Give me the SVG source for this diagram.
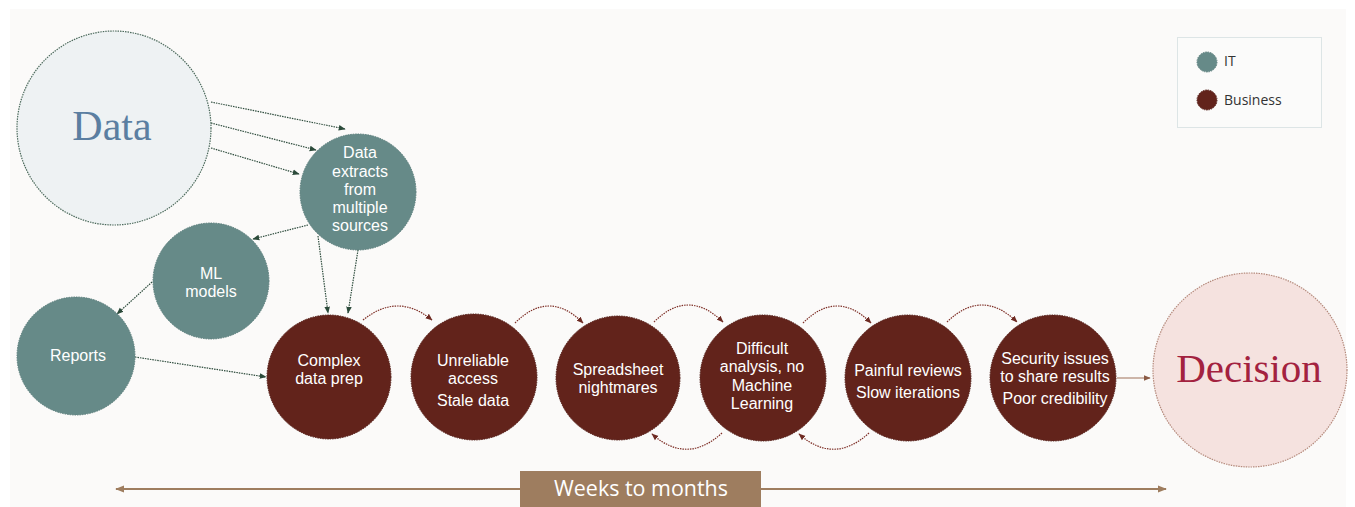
<svg xmlns="http://www.w3.org/2000/svg" width="1355" height="507" viewBox="0 0 1355 507">
<style>
.it{fill:#668a88;stroke:#5b7e7c;stroke-width:1;stroke-dasharray:1.5 1}
.biz{fill:#62231b;stroke:#55201a;stroke-width:1;stroke-dasharray:1.5 1}
.nt{font-family:"Liberation Sans",Arial,sans-serif;font-size:16px;fill:#ffffff;text-anchor:middle}
.cg{fill:none;stroke:#2f4d3e;stroke-width:1.2;stroke-dasharray:1.5 1;marker-end:url(#ag)}
.cr{fill:none;stroke:#7e2f27;stroke-width:1.2;stroke-dasharray:1.5 1;marker-end:url(#ar)}
.lg{font-family:"Open Sans","Noto Sans",sans-serif;font-size:14px;fill:#333333}
</style>
<defs>
<marker id="ag" viewBox="0 0 10 10" refX="9" refY="5" markerWidth="7" markerHeight="7" markerUnits="userSpaceOnUse" orient="auto"><path d="M0,1 L10,5 L0,9 z" fill="#2b4a3a"/></marker>
<marker id="ar" viewBox="0 0 10 10" refX="9" refY="5" markerWidth="7" markerHeight="7" markerUnits="userSpaceOnUse" orient="auto"><path d="M0,1 L10,5 L0,9 z" fill="#6e2a22"/></marker>
<marker id="ab" viewBox="0 0 10 10" refX="9" refY="5" markerWidth="7" markerHeight="7" markerUnits="userSpaceOnUse" orient="auto"><path d="M0,1 L10,5 L0,9 z" fill="#8a5a45"/></marker>
<marker id="at" viewBox="0 0 10 10" refX="9" refY="5" markerWidth="9" markerHeight="9" markerUnits="userSpaceOnUse" orient="auto-start-reverse"><path d="M0,1 L10,5 L0,9 z" fill="#9e7d5f"/></marker>
</defs>
<rect x="0" y="0" width="1355" height="507" fill="#ffffff"/>
<rect x="10" y="9" width="1336" height="498" fill="#fbfaf9"/>

<g id="connectors">
<path class="cg" d="M211,102 L345,129"/>
<path class="cg" d="M211,123 L316,150"/>
<path class="cg" d="M211,148 L299,174"/>
<path class="cg" d="M308,225 L253,239"/>
<path class="cg" d="M152,282 L117,314"/>
<path class="cg" d="M318,236 L328,313"/>
<path class="cg" d="M358,250 L348,313"/>
<path class="cg" d="M135,357 L266,377"/>
<path class="cr" d="M363,320 Q398,292 432,320"/>
<path class="cr" d="M515,323 Q549,289 583,323"/>
<path class="cr" d="M654,322 Q688,288 723,322"/>
<path class="cr" d="M803,323 Q837,289 871,323"/>
<path class="cr" d="M947,322 Q982,288 1017,322"/>
<path class="cr" d="M722,433 Q687,465 652,434"/>
<path class="cr" d="M869,433 Q834,465 799,434"/>
<path d="M1117,378 L1150,378" fill="none" stroke="#a0705a" stroke-width="1.2" marker-end="url(#ab)"/>
<path d="M116,489 L1166,489" fill="none" stroke="#9e7d5f" stroke-width="2" marker-start="url(#at)" marker-end="url(#at)"/>
</g>

<g id="data">
<circle cx="114" cy="128" r="97" fill="#eef2f3" stroke="#4c6a5c" stroke-width="1.2" stroke-dasharray="1.5 1"/>
<text x="112" y="140" font-family="'Liberation Serif','Times New Roman',serif" font-size="42" fill="#5b7fa1" text-anchor="middle">Data</text>
</g>

<g id="extracts">
<circle class="it" cx="358" cy="192" r="58"/>
<text class="nt" x="360" y="158">Data</text>
<text class="nt" x="360" y="177">extracts</text>
<text class="nt" x="360" y="195">from</text>
<text class="nt" x="360" y="213">multiple</text>
<text class="nt" x="360" y="231">sources</text>
</g>

<g id="ml">
<circle class="it" cx="211" cy="281" r="58"/>
<text class="nt" x="211" y="279">ML</text>
<text class="nt" x="211" y="297">models</text>
</g>

<g id="reports">
<circle class="it" cx="76" cy="356" r="59"/>
<text class="nt" x="78" y="361">Reports</text>
</g>

<g id="complex">
<circle class="biz" cx="329" cy="377" r="62"/>
<text class="nt" x="329" y="366">Complex</text>
<text class="nt" x="329" y="384">data prep</text>
</g>

<g id="unreliable">
<circle class="biz" cx="474" cy="377" r="63"/>
<text class="nt" x="473" y="366">Unreliable</text>
<text class="nt" x="473" y="384">access</text>
<text class="nt" x="473" y="406">Stale data</text>
</g>

<g id="spreadsheet">
<circle class="biz" cx="618" cy="378" r="62"/>
<text class="nt" x="618" y="375">Spreadsheet</text>
<text class="nt" x="618" y="393">nightmares</text>
</g>

<g id="difficult">
<circle class="biz" cx="763" cy="378" r="63"/>
<text class="nt" x="762" y="354">Difficult</text>
<text class="nt" x="762" y="372">analysis, no</text>
<text class="nt" x="762" y="391">Machine</text>
<text class="nt" x="762" y="409">Learning</text>
</g>

<g id="painful">
<circle class="biz" cx="908" cy="378" r="63"/>
<text class="nt" x="908" y="376">Painful reviews</text>
<text class="nt" x="908" y="398">Slow iterations</text>
</g>

<g id="security">
<circle class="biz" cx="1053" cy="378" r="63"/>
<text class="nt" x="1055" y="364">Security issues</text>
<text class="nt" x="1055" y="382">to share results</text>
<text class="nt" x="1055" y="404">Poor credibility</text>
</g>

<g id="decision">
<circle cx="1250" cy="370" r="97" fill="#f5e2df" stroke="#b58a7c" stroke-width="1.2" stroke-dasharray="1.5 1"/>
<text x="1249" y="382" font-family="'Liberation Serif','Times New Roman',serif" font-size="41" fill="#a3223f" text-anchor="middle">Decision</text>
</g>

<g id="legend">
<rect x="1177.5" y="37.5" width="144" height="90" fill="#fbfbfa" stroke="#dde5e6" stroke-width="1"/>
<circle class="it" cx="1207" cy="62" r="10"/>
<text class="lg" x="1224" y="66">IT</text>
<circle class="biz" cx="1207" cy="100" r="10"/>
<text class="lg" x="1224" y="105">Business</text>
</g>

<g id="timeline">
<rect x="520" y="471" width="241" height="36" fill="#9e7d5f"/>
<text x="641" y="496" font-family="'Open Sans','Noto Sans',sans-serif" font-size="22" fill="#ffffff" text-anchor="middle" textLength="174" lengthAdjust="spacingAndGlyphs">Weeks to months</text>
</g>
</svg>
